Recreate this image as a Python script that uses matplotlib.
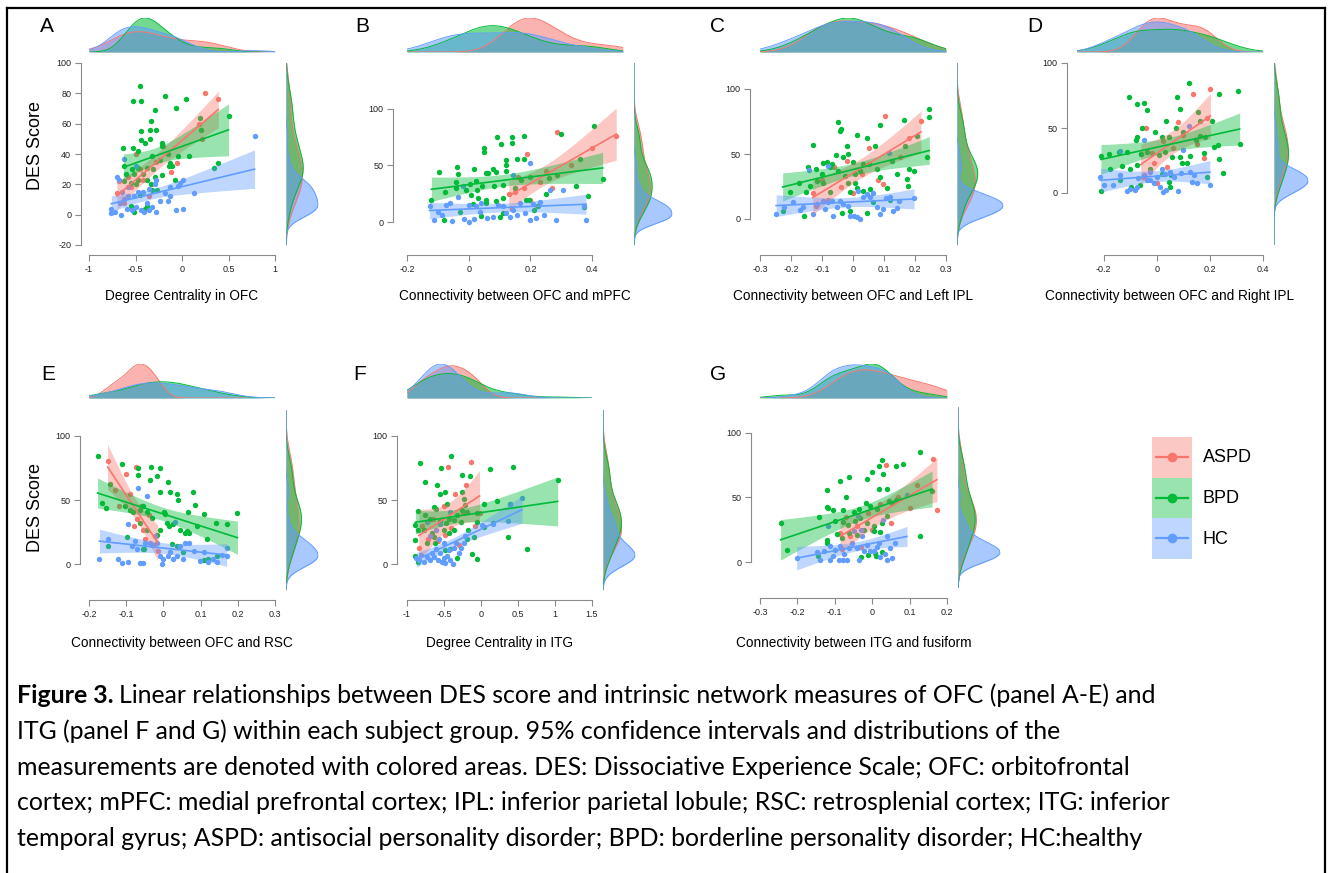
import numpy as np
import matplotlib
matplotlib.use("Agg")
import matplotlib.pyplot as plt
from matplotlib.lines import Line2D
from matplotlib.patches import Rectangle

W, H = 1331, 873
DPI = 100

groups = ["ASPD", "BPD", "HC"]
colors = ["#F8766D", "#00BA38", "#619CFF"]

# ---- data: (x, DES score) per group and panel ----
a_aspd = [(-0.70, 14), (-0.68, 22), (-0.62, 8), (-0.58, 25), (-0.55, 18), (-0.49, 40), (-0.45, 30),
          (-0.42, 23), (-0.35, 12), (-0.28, 35), (-0.20, 45), (-0.12, 28), (-0.05, 34), (0.18, 60),
          (0.22, 50), (0.25, 80), (0.39, 76)]
a_bpd = [(-0.45, 85), (-0.53, 75), (-0.44, 75), (-0.18, 78), (0.04, 76), (-0.06, 70), (-0.29, 69),
         (-0.33, 62), (0.50, 65), (0.19, 64), (0.20, 56), (-0.44, 55), (-0.34, 56), (-0.28, 56),
         (-0.44, 49), (-0.34, 50), (-0.40, 47), (-0.63, 44), (-0.53, 44), (-0.47, 42), (-0.22, 47),
         (-0.21, 45), (-0.32, 39), (-0.15, 40), (-0.04, 39), (0.07, 39), (-0.24, 36), (-0.13, 34),
         (-0.14, 32), (-0.11, 32), (0.34, 31), (0.39, 34), (-0.62, 32), (-0.54, 30), (-0.47, 31),
         (-0.38, 31), (-0.31, 30), (-0.60, 27), (-0.52, 27), (-0.42, 27), (-0.21, 26), (-0.62, 22),
         (-0.55, 21), (-0.47, 23), (-0.38, 23), (-0.29, 25), (-0.08, 23), (-0.49, 20), (-0.33, 20),
         (-0.32, 16), (-0.27, 16), (-0.45, 13), (-0.55, 6), (-0.52, 2), (-0.40, 4), (-0.38, 6)]
a_hc = [(0.78, 52), (0.13, 14.5), (0.01, 23), (-0.02, 21), (-0.04, 19), (-0.13, 18), (-0.13, 12),
        (-0.18, 14), (-0.24, 9), (-0.15, 9), (-0.06, 3), (0.01, 4), (-0.28, 23), (-0.29, 20),
        (-0.35, 17), (-0.42, 15), (-0.47, 15), (-0.52, 12), (-0.58, 12), (-0.62, 10), (-0.67, 8),
        (-0.76, 4), (-0.76, 1), (-0.72, 1.5), (-0.66, 0), (-0.59, 4), (-0.54, 3), (-0.49, 5),
        (-0.44, 3), (-0.41, 2), (-0.36, 3), (-0.32, 5), (-0.28, 1.5), (-0.38, 7.5), (-0.62, 37),
        (-0.49, 32), (-0.58, 18.5), (-0.70, 25), (-0.68, 23), (-0.65, 15)]

b_aspd = [(0.13, 25), (0.14, 12), (0.15, 27), (0.16, 40), (0.18, 30), (0.19, 60), (0.20, 20),
          (0.22, 14), (0.23, 35), (0.25, 45), (0.27, 30), (0.285, 79.5), (0.33, 50), (0.40, 65),
          (0.478, 75.7)]
b_bpd = [(0.092, 74.6), (0.141, 74.6), (0.18, 75.7), (0.106, 68.7), (0.14, 69.3), (0.049, 65),
         (0.049, 62), (0.12, 55), (0.155, 56), (0.179, 56), (0.08, 47), (0.055, 43), (0.063, 43.6),
         (0.12, 50), (0.12, 45), (-0.038, 49), (-0.035, 42), (-0.096, 44), (0.018, 47), (0.09, 44),
         (-0.04, 35), (0.003, 34), (0.025, 36.5), (0.044, 32), (0.081, 32), (0.112, 33), (0.15, 30),
         (0.17, 37), (0.2, 40), (0.285, 41.5), (0.26, 38.6), (0.434, 38), (0.406, 84.5), (0.30, 78),
         (0.36, 56), (0.348, 32), (0.388, 23), (0.372, 13), (-0.121, 20), (-0.078, 27), (-0.04, 30),
         (-0.008, 28), (0.009, 24), (0.027, 28), (0.03, 21), (0.057, 20), (0.09, 19), (0.112, 21),
         (-0.027, 9), (0.014, 16), (0.057, 17), (0.1, 5), (-0.08, 2), (0.04, 5.5), (0.11, 8),
         (0.21, 11), (0.225, 14), (0.196, 20), (0.185, 20), (0.25, 25)]
b_hc = [(-0.127, 14), (-0.114, 2), (-0.1, 9), (-0.086, 6.4), (-0.073, 15), (-0.062, 17), (-0.053, 1.5),
        (-0.02, 32), (-0.016, 2.6), (0.001, 0.6), (0.001, 15), (0.016, 2.6), (0.025, 14), (0.036, 9),
        (0.041, 17), (0.06, 3.5), (0.08, 4.4), (0.095, 15), (0.112, 14), (0.122, 8), (0.133, 5),
        (0.142, 11), (0.155, 6.4), (0.166, 17), (0.182, 8), (0.198, 2), (0.2, 52), (0.209, 16),
        (0.218, 3.5), (0.23, 18), (0.244, 6.4), (0.263, 28), (0.283, 2), (0.304, 28), (0.372, 14),
        (0.38, 2), (0.142, 41.5), (-0.035, 22.5)]

c_aspd = [(-0.13, 20), (-0.12, 10), (-0.10, 30), (-0.08, 15), (-0.06, 40), (-0.04, 25), (-0.02, 45),
          (0.0, 20), (0.03, 35), (0.05, 55), (0.08, 30), (0.098, 27), (0.103, 79.5), (0.15, 48),
          (0.18, 62), (0.219, 75.6)]
c_bpd = [(0.246, 84.6), (0.246, 78.7), (-0.05, 75), (-0.039, 69), (-0.042, 68), (0.087, 72.6),
         (0.012, 65), (0.166, 76), (0.205, 64), (0.044, 62), (-0.13, 57), (-0.02, 56), (0.071, 56),
         (0.168, 56), (-0.055, 49.5), (-0.033, 47.4), (-0.015, 50), (-0.096, 43), (-0.085, 43.6),
         (-0.069, 42), (-0.001, 43.6), (0.033, 42), (0.053, 42), (0.125, 45), (0.238, 47.4),
         (-0.144, 39.7), (-0.119, 38.5), (-0.1, 34.6), (-0.074, 39.7), (-0.047, 36.7), (-0.026, 33.3),
         (0.006, 34.6), (0.023, 36.7), (0.076, 38.5), (0.087, 32), (0.143, 35), (0.182, 38.5),
         (0.197, 37), (0.173, 30.8), (0.178, 25.6), (-0.173, 28), (-0.203, 21), (-0.153, 21),
         (-0.139, 25.6), (-0.115, 29.5), (-0.096, 27.4), (-0.074, 21), (-0.015, 28), (-0.01, 21),
         (0.006, 28), (0.014, 24), (0.033, 21.8), (0.055, 23), (0.111, 23.8), (0.066, 12.8),
         (-0.227, 6), (-0.158, 2.6), (-0.037, 5), (-0.01, 6), (0.044, 5), (0.119, 14.6)]
c_hc = [(-0.248, 3.8), (-0.223, 9), (-0.192, 12.8), (-0.171, 7), (-0.16, 9), (-0.141, 37.7),
        (-0.128, 3.8), (-0.117, 11.5), (-0.098, 14), (-0.09, 7.7), (-0.08, 12.8), (-0.069, 14),
        (-0.063, 2.6), (-0.053, 9), (-0.042, 14), (-0.033, 11.5), (-0.015, 10), (-0.01, 2.6),
        (0.003, 2.6), (0.014, 1.3), (0.023, 0), (0.033, 16.7), (0.044, 19), (0.055, 16.7),
        (0.066, 19.7), (0.078, 9), (0.087, 3.8), (0.098, 7.7), (0.106, 16), (0.119, 16.7),
        (0.13, 6.4), (0.141, 8.5), (0.149, 13.6), (0.197, 16), (0.017, 21.8), (0.117, 51),
        (-0.08, 41)]

d_aspd = [(-0.06, 30), (-0.05, 12), (-0.04, 50), (-0.018, 31), (-0.011, 23), (0.0, 8), (0.024, 40),
          (0.04, 20), (0.06, 35), (0.08, 55), (0.10, 45), (0.137, 76), (0.15, 38), (0.177, 27),
          (0.19, 58), (0.202, 80)]
d_bpd = [(0.122, 84.5), (0.305, 78.6), (0.077, 74), (-0.105, 74), (0.233, 76), (-0.046, 69.6),
         (-0.074, 68.3), (-0.036, 64), (0.087, 65), (0.154, 62), (0.036, 55.7), (0.208, 55.7),
         (0.074, 49.7), (-0.055, 49.7), (0.162, 55.4), (-0.074, 43), (-0.077, 40.7), (-0.006, 47),
         (0.02, 43), (0.045, 43), (0.1, 47), (0.149, 41), (0.164, 44), (0.183, 43), (0.312, 38),
         (0.231, 36.6), (-0.21, 28.4), (-0.178, 30), (-0.143, 31.7), (-0.112, 31.7), (-0.059, 30),
         (-0.036, 31.7), (0.008, 29), (0.033, 31.7), (0.058, 27.8), (0.087, 27.8), (0.124, 28.4),
         (0.177, 31), (0.215, 35.6), (-0.174, 18.8), (-0.13, 20.6), (-0.099, 18.8), (-0.074, 21.4),
         (-0.026, 18.8), (0.02, 15), (0.054, 13.7), (0.095, 22.7), (0.114, 23), (0.233, 25.8),
         (0.25, 15.5), (0.19, 12.4), (-0.21, 1.5), (-0.137, 9.8), (-0.097, 5), (-0.064, 6),
         (0.045, 8.5), (0.051, 4.6)]
d_hc = [(-0.212, 12.4), (-0.2, 6.4), (-0.164, 6), (-0.137, 13.7), (-0.137, 32.5), (-0.112, 1.3),
        (-0.099, 3.4), (-0.08, 2), (-0.074, 4.6), (-0.071, 11.9), (-0.049, 13.7), (-0.036, 9.8),
        (-0.024, 16), (-0.009, 7.7), (0.001, 12.4), (0.014, 4.6), (0.024, 0.8), (0.033, 15),
        (0.036, 2), (0.051, 16), (0.064, 12.4), (0.08, 1.3), (0.092, 15.5), (0.1, 33), (0.124, 16),
        (0.133, 8.5), (0.142, 13.7), (0.152, 7.7), (0.2, 6), (-0.049, 41), (0.12, 51.5),
        (-0.024, 9.8), (0.02, 18.8)]

e_aspd = [(-0.15, 80), (-0.13, 58), (-0.12, 45), (-0.10, 70), (-0.09, 55), (-0.08, 30), (-0.074, 75.7),
          (-0.07, 35), (-0.06, 45), (-0.056, 27), (-0.05, 20), (-0.04, 38), (-0.03, 15), (-0.02, 22),
          (-0.015, 10)]
e_bpd = [(-0.177, 84.5), (-0.112, 78.3), (-0.067, 75), (-0.034, 76), (-0.009, 75), (-0.067, 69.8),
         (-0.016, 68.5), (-0.036, 65.4), (0.013, 63.8), (-0.009, 56), (0.018, 56), (0.036, 55),
         (0.079, 56.6), (0.038, 50), (0.085, 46.5), (-0.143, 62.8), (-0.166, 47.3), (-0.155, 44),
         (-0.103, 45), (-0.09, 42.6), (-0.082, 41), (-0.063, 42.6), (-0.054, 45), (-0.045, 40.6),
         (0.002, 41), (0.004, 38.8), (0.065, 40.6), (0.109, 38.8), (0.199, 40), (-0.063, 32.3),
         (-0.031, 36), (0.009, 32.3), (0.016, 29.7), (0.025, 31), (0.045, 27), (-0.009, 27),
         (-0.018, 23), (0.058, 24.5), (0.063, 25.8), (0.07, 24), (0.09, 29.7), (0.142, 31.8),
         (0.17, 31), (0.118, 20), (-0.148, 14.2), (-0.099, 21.4), (-0.052, 11.6), (0.022, 15.5),
         (0.036, 14.2), (0.052, 9.6), (0.109, 3), (0.121, 3.9), (0.143, 6.5), (-0.056, 11.6),
         (-0.045, 27)]
e_hc = [(-0.172, 4.4), (-0.15, 19.4), (-0.121, 4.4), (-0.112, 1.3), (-0.094, 1.8), (-0.094, 31),
        (-0.085, 14.2), (-0.076, 18), (-0.07, 11.6), (-0.063, 1.3), (-0.056, 0.8), (-0.049, 16.8),
        (-0.036, 16.8), (-0.027, 14.7), (-0.022, 22), (-0.018, 16.8), (-0.009, 6.5), (-0.004, 0),
        (0.0, 3.9), (0.013, 6.5), (0.018, 9.6), (0.027, 3.9), (0.031, 32.8), (0.036, 6.5),
        (0.045, 14.2), (0.054, 3.9), (0.058, 16.8), (0.07, 16.8), (0.081, 10.3), (0.099, 2.6),
        (0.109, 9.6), (0.121, 1.8), (0.134, 3.9), (0.143, 1.8), (0.157, 7), (0.17, 6.5), (0.17, 13),
        (-0.067, 59.4), (-0.045, 53)]

f_aspd = [(-0.84, 13), (-0.80, 30), (-0.72, 20), (-0.65, 35), (-0.58, 18), (-0.50, 45), (-0.482, 22.7),
          (-0.45, 76), (-0.40, 28), (-0.35, 55), (-0.30, 15), (-0.25, 40), (-0.20, 62), (-0.135, 79.4),
          (-0.08, 30), (-0.02, 40)]
f_bpd = [(-0.829, 78.6), (-0.405, 84.5), (-0.541, 75), (0.432, 76), (0.117, 74.2), (-0.752, 64),
         (-0.595, 62), (-0.252, 69.6), (-0.153, 68.6), (1.036, 65.2), (-0.559, 55), (-0.482, 56),
         (-0.257, 56), (-0.234, 51), (-0.212, 45.9), (0.045, 46.6), (0.216, 49), (0.396, 47),
         (-0.856, 41.5), (-0.752, 38), (-0.64, 44.6), (-0.604, 43.3), (-0.46, 46.6), (-0.324, 38),
         (-0.257, 42.5), (-0.194, 40.7), (-0.054, 40), (-0.685, 35.6), (-0.55, 33.8), (-0.468, 32.2),
         (-0.437, 35.6), (-0.37, 34.3), (-0.27, 33), (-0.054, 33), (0.036, 29), (0.162, 32.2),
         (-0.887, 30.4), (-0.856, 27), (-0.766, 26.5), (-0.662, 24.5), (-0.505, 26.5), (-0.437, 24),
         (-0.37, 26.5), (-0.18, 27), (-0.09, 21.4), (-0.189, 20), (-0.887, 18.8), (-0.73, 16.2),
         (-0.617, 16.2), (-0.482, 11), (-0.414, 11.6), (-0.324, 4.6), (-0.887, 6.4), (-0.856, 2),
         (0.36, 20.9), (0.622, 11.9), (-0.122, 8), (-0.054, 3.9), (-0.63, 21.4)]
f_hc = [(0.554, 51.8), (0.387, 47), (0.36, 33.8), (0.162, 31.7), (0.014, 30.4), (-0.874, 5.2),
        (-0.842, 3.4), (-0.811, 7.2), (-0.775, 2), (-0.73, 6), (-0.694, 3.4), (-0.662, 8.5),
        (-0.64, 6), (-0.604, 11.6), (-0.586, 3.4), (-0.55, 8.5), (-0.527, 2), (-0.505, 4.6),
        (-0.482, 0.8), (-0.46, 6.4), (-0.437, 11), (-0.414, 3.4), (-0.378, 0.3), (-0.36, 12.4),
        (-0.333, 16.2), (-0.302, 8.5), (-0.275, 12.4), (-0.234, 16.2), (-0.212, 21.9), (-0.685, 21.9),
        (-0.572, 19.3), (-0.505, 16.2), (-0.423, 40.7), (-0.73, 33), (-0.55, 31.7), (-0.604, 26.5)]

g_aspd = [(-0.086, 22.5), (-0.08, 10), (-0.07, 35), (-0.06, 20), (-0.04, 28), (-0.03, 12), (-0.01, 38),
          (0.0, 25), (0.02, 45), (0.036, 75.5), (0.05, 30), (0.07, 50), (0.10, 42), (0.12, 60),
          (0.163, 80), (0.173, 40)]
g_bpd = [(-0.245, 30.2), (-0.229, 9.6), (0.026, 78.8), (0.017, 74.7), (0.082, 76.2), (0.064, 74.7),
         (0.129, 85), (-0.001, 69.5), (0.029, 68.5), (-0.086, 62.5), (-0.063, 65.9), (-0.014, 64.3),
         (-0.12, 56), (-0.07, 50.4), (0.017, 56.6), (0.039, 56.6), (-0.12, 43), (-0.117, 41.8),
         (-0.105, 40.6), (-0.079, 40), (-0.05, 38.5), (-0.034, 41), (-0.016, 45.7), (-0.005, 43.7),
         (0.013, 41), (0.044, 47), (0.053, 45.7), (0.063, 47.8), (0.16, 54.8), (-0.141, 34.9),
         (-0.099, 31.5), (-0.079, 30.7), (-0.066, 29), (-0.032, 34), (-0.014, 30.2), (0.004, 28),
         (0.026, 30.2), (0.039, 35.4), (-0.121, 16.8), (-0.121, 14.7), (-0.095, 22), (-0.081, 18.6),
         (-0.061, 22.5), (-0.041, 21.2), (-0.021, 25), (0.004, 23.8), (0.021, 23), (0.129, 20.4),
         (-0.03, 3.9), (-0.01, 5.7), (0.008, 7), (0.026, 7.5), (0.011, 4.4), (-0.144, 4.9),
         (-0.046, 31.5)]
g_hc = [(-0.202, 3.1), (-0.148, 7.5), (-0.139, 1.8), (-0.129, 8.3), (-0.117, 28.2), (-0.114, 12.7),
        (-0.113, 1.8), (-0.104, 4.4), (-0.099, 9.6), (-0.09, 1.8), (-0.086, 12.1), (-0.075, 6.5),
        (-0.068, 1.8), (-0.061, 10.9), (-0.054, 14.7), (-0.041, 10.9), (-0.039, 35.4), (-0.034, 1.8),
        (-0.028, 19.9), (-0.023, 8.3), (-0.014, 13.4), (-0.005, 9), (0.005, 8.3), (0.017, 14.7),
        (0.021, 3.9), (0.013, 11.6), (0.035, 6.5), (0.039, 1.8), (0.048, 10.9), (0.053, 3.1),
        (0.062, 14.7), (0.039, 20.4), (0.093, 52.2), (0.029, 32.3), (-0.079, 1.8), (-0.029, 25),
        (-0.048, 23.8)]

panel_letters = ["A", "B", "C", "D", "E", "F", "G"]
x_labels = ["Degree Centrality in OFC", "Connectivity between OFC and mPFC",
            "Connectivity between OFC and Left IPL", "Connectivity between OFC and Right IPL",
            "Connectivity between OFC and RSC", "Degree Centrality in ITG",
            "Connectivity between ITG and fusiform"]
x_limits = [(-1, 1), (-0.2, 0.5), (-0.3, 0.3), (-0.3, 0.4), (-0.2, 0.3), (-1, 1.5), (-0.3, 0.2)]
y_limits = [(-20, 100), (-20, 140), (-20, 120), (-40, 100), (-20, 120), (-20, 120), (-20, 120)]
x_ticks = [[-1, -0.5, 0, 0.5, 1], [-0.2, 0, 0.2, 0.4], [-0.3, -0.2, -0.1, 0, 0.1, 0.2, 0.3],
           [-0.2, 0, 0.2, 0.4], [-0.2, -0.1, 0, 0.1, 0.2, 0.3], [-1, -0.5, 0, 0.5, 1, 1.5],
           [-0.3, -0.2, -0.1, 0, 0.1, 0.2]]
y_ticks = [[-20, 0, 20, 40, 60, 80, 100], [0, 50, 100], [0, 50, 100], [0, 50, 100],
           [0, 50, 100], [0, 50, 100], [0, 50, 100]]
panel_data = [(a_aspd, a_bpd, a_hc), (b_aspd, b_bpd, b_hc), (c_aspd, c_bpd, c_hc),
              (d_aspd, d_bpd, d_hc), (e_aspd, e_bpd, e_hc), (f_aspd, f_bpd, f_hc),
              (g_aspd, g_bpd, g_hc)]

caption_lines = [
    "Linear relationships between DES score and intrinsic network measures of OFC (panel A-E) and",
    "ITG (panel F and G) within each subject group. 95% confidence intervals and distributions of the",
    "measurements are denoted with colored areas. DES: Dissociative Experience Scale; OFC: orbitofrontal",
    "cortex; mPFC: medial prefrontal cortex; IPL: inferior parietal lobule; RSC: retrosplenial cortex; ITG: inferior",
    "temporal gyrus; ASPD: antisocial personality disorder; BPD: borderline personality disorder; HC:healthy",
]

# ---- layout in pixels (left, right, top, bottom of data area) ----
boxes = [(89, 275, 63, 245), (407, 623, 63, 245), (760, 946, 63, 245), (1077, 1263, 63, 245),
         (89, 275, 410, 590), (407, 592, 410, 590), (760, 947, 407, 588)]
yspine_x = [81, 393, 750, 1067, 80, 397, 751]
top_marg = [(18, 52)] * 4 + [(364, 398)] * 3
right_w = [32, 38, 46, 34, 32, 32, 42]
letter_xy = [(40, 27), (355, 27), (710, 27), (1027, 27), (41, 374), (353, 374), (710, 374)]
xlabel_y = [296] * 4 + [643] * 3

plt.rcParams["font.family"] = ["Liberation Sans", "DejaVu Sans"]
fig = plt.figure(figsize=(W / DPI, H / DPI), dpi=DPI)
fig.patch.set_facecolor("white")


def px_axes(x0, x1, y0, y1):
    return fig.add_axes([x0 / W, 1 - y1 / H, (x1 - x0) / W, (y1 - y0) / H])


def kde(vals, grid):
    vals = np.asarray(vals, float)
    n = len(vals)
    bw = 1.06 * vals.std(ddof=1) * n ** -0.2
    z = (grid[:, None] - vals[None, :]) / bw
    return np.exp(-0.5 * z ** 2).sum(axis=1) / (n * bw * np.sqrt(2 * np.pi))


def t975(df):
    z = 1.959964
    return (z + (z ** 3 + z) / (4 * df) + (5 * z ** 5 + 16 * z ** 3 + 3 * z) / (96 * df ** 2)
            + (3 * z ** 7 + 19 * z ** 5 + 17 * z ** 3 - 15 * z) / (384 * df ** 3))


for i in range(7):
    x0, x1, y0, y1 = boxes[i]
    xlim, ylim = x_limits[i], y_limits[i]
    ax = px_axes(x0, x1, y0, y1)
    ax.set_xlim(*xlim)
    ax.set_ylim(*ylim)
    ax.patch.set_alpha(0)

    pts = [np.array(d, float) for d in panel_data[i]]

    for p, c in zip(pts, colors):
        ax.scatter(p[:, 0], p[:, 1], s=15, color=c, linewidths=0, zorder=2)

    fits = []
    for p, c in zip(pts, colors):
        x, y = p[:, 0], p[:, 1]
        n = len(x)
        b1, b0 = np.polyfit(x, y, 1)
        resid = y - (b0 + b1 * x)
        s = np.sqrt((resid ** 2).sum() / (n - 2))
        xx = np.linspace(x.min(), x.max(), 80)
        se = s * np.sqrt(1 / n + (xx - x.mean()) ** 2 / ((x - x.mean()) ** 2).sum())
        yy = b0 + b1 * xx
        ax.fill_between(xx, yy - t975(n - 2) * se, yy + t975(n - 2) * se,
                        color=c, alpha=0.4, lw=0, zorder=3)
        fits.append((xx, yy, c))
    for xx, yy, c in fits:
        ax.plot(xx, yy, color=c, lw=1.2, zorder=4)

    for side in ["top", "right"]:
        ax.spines[side].set_visible(False)
    ax.spines["left"].set_position(("outward", (x0 - yspine_x[i]) * 72 / DPI))
    ax.spines["bottom"].set_position(("outward", 10 * 72 / DPI))
    for side in ["left", "bottom"]:
        ax.spines[side].set_color("#8a8a8a")
        ax.spines[side].set_linewidth(0.8)
    ax.set_xticks(x_ticks[i])
    ax.set_xticklabels([f"{v:g}" for v in x_ticks[i]])
    ax.set_yticks(y_ticks[i])
    ax.set_yticklabels([f"{v:g}" for v in y_ticks[i]])
    ax.spines["bottom"].set_bounds(x_ticks[i][0], x_ticks[i][-1])
    ax.spines["left"].set_bounds(y_ticks[i][0], y_ticks[i][-1])
    ax.tick_params(direction="out", length=4, width=0.8, color="#8a8a8a",
                   labelsize=6.5, labelcolor="#222222", pad=3)

    # top marginal densities
    tx = px_axes(x0, x1, top_marg[i][0], top_marg[i][1])
    gx = np.linspace(xlim[0], xlim[1], 300)
    dens = [kde(p[:, 0], gx) for p in pts]
    for d, c in zip(dens, colors):
        tx.fill_between(gx, 0, d, color=c, alpha=0.55, lw=0)
        tx.plot(gx, d, color=c, lw=0.7)
    tx.set_xlim(*xlim)
    tx.set_ylim(0, max(d.max() for d in dens))
    tx.axis("off")

    # right marginal densities
    rx = px_axes(x1 + 11, x1 + 11 + right_w[i], y0, y1)
    gy = np.linspace(ylim[0], ylim[1], 300)
    dens = [kde(p[:, 1], gy) for p in pts]
    for d, c in zip(dens, colors):
        rx.fill_betweenx(gy, 0, d, color=c, alpha=0.55, lw=0)
        rx.plot(d, gy, color=c, lw=0.7)
    rx.set_ylim(*ylim)
    rx.set_xlim(0, max(d.max() for d in dens))
    rx.axis("off")

    fig.text(letter_xy[i][0] / W, 1 - letter_xy[i][1] / H, panel_letters[i],
             fontsize=15, ha="left", va="center")
    fig.text((x0 + x1) / 2 / W, 1 - xlabel_y[i] / H, x_labels[i],
             fontsize=9.8, ha="center", va="center")

for yc in [145, 507]:
    fig.text(35 / W, 1 - yc / H, "DES Score", fontsize=13, rotation=90,
             ha="center", va="center")

# legend
lg = px_axes(0, W, 0, H)
lg.set_xlim(0, W)
lg.set_ylim(H, 0)
lg.axis("off")
for k, (g, c) in enumerate(zip(groups, colors)):
    top = 437 + k * 40.5
    lg.add_patch(Rectangle((1152, top), 40, 40.5, color=c, alpha=0.4, lw=0))
    lg.plot([1156, 1188], [top + 20, top + 20], color=c, lw=1.6)
    lg.plot([1172], [top + 20], "o", color=c, ms=6)
    lg.text(1203, top + 21, g, fontsize=13, va="center", ha="left")

# caption
rend = fig.canvas.get_renderer()
cap_font = ["Lato", "DejaVu Sans"]
cap_size = 17.9
bold = fig.text(17 / W, 1 - 703 / H, "Figure 3.", fontsize=cap_size, fontweight="bold",
                family=cap_font, va="baseline", ha="left")
bx = bold.get_window_extent(rend).x1
fig.text((bx + 5) / W, 1 - 703 / H, caption_lines[0], fontsize=cap_size, family=cap_font,
         va="baseline", ha="left")
for k, line in enumerate(caption_lines[1:]):
    fig.text(17 / W, 1 - (739 + 35.7 * k) / H, line, fontsize=cap_size, family=cap_font,
             va="baseline", ha="left")

# frame around the figure
for xs, ys in [([7, 7], [8, H + 5]), ([7, 1325], [8, 8]), ([1325, 1325], [8, H + 5])]:
    fig.add_artist(Line2D([v / W for v in xs], [1 - v / H for v in ys], color="black", lw=1.6))

fig.savefig("out.png", dpi=DPI)
